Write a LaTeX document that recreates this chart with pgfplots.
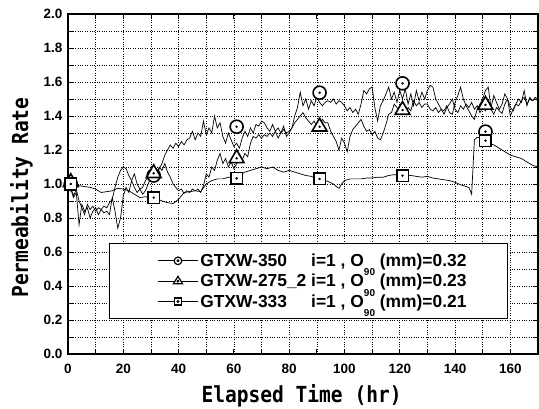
\documentclass[border=0pt]{standalone}
\usepackage{pgfplots}
\pgfplotsset{compat=1.18}
\usepackage{fontspec}
\usepackage{calc}
\usepackage{graphicx}
\setmainfont{Liberation Sans}
\newfontfamily\labelfont{DejaVu Sans Mono Bold}

% narrow monospaced axis titles of a fixed size
\newcommand{\axtitle}[1]{\resizebox{200pt}{18pt}{\labelfont #1}}

% legend samples: short line with a small marker carrying a centre dot
\pgfplotsset{
  legcircle/.style={legend image code/.code={
    \path (-9pt,0pt);
    \draw[black,line width=0.8pt] (0pt,0pt) -- (40pt,0pt);
    \draw[black,line width=1.2pt,fill=white] (20pt,0pt) circle (3.8pt);
    \fill[black] (20pt,0pt) circle (0.9pt);}},
  legtriangle/.style={legend image code/.code={
    \path (-9pt,0pt);
    \draw[black,line width=0.8pt] (0pt,0pt) -- (40pt,0pt);
    \draw[black,line width=1.2pt,fill=white] (20pt,4.8pt) -- (15.4pt,-2.7pt) -- (24.6pt,-2.7pt) -- cycle;
    \fill[black] (20pt,0pt) circle (0.9pt);}},
  legsquare/.style={legend image code/.code={
    \path (-9pt,0pt);
    \draw[black,line width=0.8pt] (0pt,0pt) -- (40pt,0pt);
    \draw[black,line width=1.2pt,fill=white] (16.5pt,-3.5pt) rectangle (23.5pt,3.5pt);
    \fill[black] (20pt,0pt) circle (0.9pt);}},
}

\newcommand{\sub}[1]{\raisebox{-9.5pt}[0pt][0pt]{\fontsize{10}{10}\selectfont #1}}
\newcommand{\sname}[1]{\makebox[\widthof{GTXW-275\_2}][l]{#1}}

\begin{document}
\begin{tikzpicture}
\path[use as bounding box] (-68pt,-55pt) rectangle (471pt,354pt);
\begin{axis}[
  at={(0pt,0pt)}, anchor=south west,
  scale only axis, width=470pt, height=340pt,
  xmin=0, xmax=170, ymin=0, ymax=2,
  xtick={0,20,40,60,80,100,120,140,160},
  ytick={0,0.2,0.4,0.6,0.8,1.0,1.2,1.4,1.6,1.8,2.0},
  minor x tick num=1, minor y tick num=1,
  grid=both,
  major grid style={black, dotted, line width=0.6pt},
  minor grid style={black, dotted, line width=0.6pt},
  tick style={black, line width=0.8pt},
  major tick length=5pt, minor tick length=5pt,
  axis line style={line width=1.5pt},
  /pgf/number format/assume math mode=true,
  tick label style={font=\fontsize{13.5}{13.5}\selectfont\bfseries},
  yticklabel style={xshift=-2pt, /pgf/number format/.cd, fixed, fixed zerofill, precision=1},
  xticklabel style={yshift=-6.5pt},
  xlabel={\axtitle{Elapsed Time (hr)}},
  ylabel={\axtitle{Permeability Rate}},
  xlabel style={at={(axis description cs:0.497,-0.143)}, anchor=base, inner sep=0pt},
  ylabel style={at={(axis description cs:-0.085,0.46)}, anchor=base, inner sep=0pt},
  legend style={at={(rel axis cs:0.0872,0.1029)}, anchor=south west,
    draw=black, line width=1pt, fill=white,
    font=\fontsize{17.4}{21}\selectfont\bfseries,
    inner xsep=39pt, inner ysep=8pt, row sep=2.2pt},
  legend cell align=left,
]

% GTXW-350
\addplot[black, line width=0.7pt, forget plot] coordinates {
(0,1.00)(1,0.97)(2,0.92)(3,0.95)(4,0.76)(5,0.88)(6,0.84)(7,0.86)(8,0.80)(9,0.84)
(10,0.86)(11,0.82)(12,0.85)(13,0.83)(14,0.84)(15,0.82)(16,0.92)(17,0.84)(18,0.74)(19,0.80)
(20,0.93)(21,0.98)(22,0.95)(23,1.02)(24,1.06)(25,1.00)(26,0.97)(27,0.98)(28,1.02)(29,1.04)
(30,1.03)(31,1.05)(32,1.04)(33,1.09)(34,1.12)(35,1.17)(36,1.20)(37,1.23)(38,1.21)(39,1.24)
(40,1.22)(41,1.25)(42,1.23)(43,1.26)(44,1.27)(45,1.31)(46,1.26)(47,1.30)(48,1.28)(49,1.37)
(50,1.29)(51,1.33)(52,1.30)(53,1.40)(54,1.33)(55,1.36)(56,1.28)(57,1.24)(58,1.30)(59,1.26)
(60,1.22)(61,1.24)(62,1.21)(63,1.27)(64,1.31)(65,1.28)(66,1.33)(67,1.30)(68,1.35)(69,1.34)
(70,1.37)(71,1.36)(72,1.33)(73,1.31)(74,1.35)(75,1.31)(76,1.33)(77,1.30)(78,1.34)(79,1.28)
(80,1.30)(81,1.33)(82,1.40)(83,1.45)(84,1.54)(85,1.46)(86,1.50)(87,1.44)(88,1.49)(89,1.46)
(90,1.51)(91,1.48)(92,1.46)(93,1.48)(94,1.49)(95,1.48)(96,1.50)(97,1.47)(98,1.49)(99,1.48)
(100,1.46)(101,1.43)(102,1.45)(103,1.42)(104,1.44)(105,1.41)(106,1.47)(107,1.55)(108,1.53)(109,1.56)
(110,1.57)(111,1.45)(112,1.37)(113,1.46)(114,1.49)(115,1.53)(116,1.57)(117,1.50)(118,1.54)(119,1.48)
(120,1.55)(121,1.50)(122,1.56)(123,1.47)(124,1.53)(125,1.46)(126,1.55)(127,1.49)(128,1.54)(129,1.50)
(130,1.55)(131,1.58)(132,1.57)(133,1.50)(134,1.47)(135,1.44)(136,1.43)(137,1.46)(138,1.42)(139,1.41)
(140,1.48)(141,1.52)(142,1.57)(143,1.50)(144,1.46)(145,1.43)(146,1.40)(147,1.38)(148,1.44)(149,1.47)
(150,1.50)(151,1.55)(152,1.57)(153,1.45)(154,1.52)(155,1.48)(156,1.44)(157,1.47)(158,1.53)(159,1.50)
(160,1.40)(161,1.44)(162,1.47)(163,1.50)(164,1.48)(165,1.55)(166,1.46)(167,1.51)(168,1.49)(169,1.50)
(170,1.49)};

% GTXW-275_2
\addplot[black, line width=0.7pt, forget plot] coordinates {
(0,1.04)(1,0.98)(2,0.93)(3,0.97)(4,0.90)(5,0.86)(6,0.82)(7,0.88)(8,0.85)(9,0.87)
(10,0.84)(11,0.86)(12,0.85)(13,0.87)(14,0.86)(15,0.89)(16,0.91)(17,0.98)(18,1.04)(19,1.08)
(20,1.10)(21,1.09)(22,1.05)(23,1.02)(24,0.98)(25,0.95)(26,0.97)(27,0.94)(28,0.96)(29,1.00)
(30,1.04)(31,1.06)(32,1.05)(33,1.10)(34,1.08)(35,1.12)(36,1.07)(37,1.04)(38,1.00)(39,0.98)
(40,0.96)(41,0.97)(42,0.945)(43,0.96)(44,0.95)(45,0.97)(46,0.96)(47,0.97)(48,0.95)(49,0.99)
(50,1.06)(51,1.04)(52,1.10)(53,1.08)(54,1.14)(55,1.18)(56,1.12)(57,1.15)(58,1.10)(59,1.13)
(60,1.09)(61,1.12)(62,1.16)(63,1.14)(64,1.18)(65,1.16)(66,1.24)(67,1.28)(68,1.27)(69,1.29)
(70,1.27)(71,1.29)(72,1.28)(73,1.30)(74,1.28)(75,1.31)(76,1.27)(77,1.30)(78,1.32)(79,1.30)
(80,1.31)(81,1.33)(82,1.36)(83,1.38)(84,1.40)(85,1.42)(86,1.39)(87,1.37)(88,1.35)(89,1.37)
(90,1.34)(91,1.35)(92,1.38)(93,1.36)(94,1.36)(95,1.31)(96,1.28)(97,1.25)(98,1.20)(99,1.27)
(100,1.24)(101,1.19)(102,1.28)(103,1.32)(104,1.34)(105,1.36)(106,1.38)(107,1.34)(108,1.31)(109,1.32)
(110,1.29)(111,1.31)(112,1.27)(113,1.26)(114,1.30)(115,1.35)(116,1.41)(117,1.42)(118,1.47)(119,1.45)
(120,1.43)(121,1.44)(122,1.41)(123,1.45)(124,1.43)(125,1.49)(126,1.46)(127,1.48)(128,1.45)(129,1.47)
(130,1.47)(131,1.44)(132,1.43)(133,1.45)(134,1.42)(135,1.44)(136,1.41)(137,1.45)(138,1.47)(139,1.50)
(140,1.44)(141,1.42)(142,1.46)(143,1.44)(144,1.47)(145,1.45)(146,1.48)(147,1.44)(148,1.46)(149,1.42)
(150,1.45)(151,1.43)(152,1.46)(153,1.44)(154,1.41)(155,1.45)(156,1.43)(157,1.415)(158,1.47)(159,1.50)
(160,1.45)(161,1.43)(162,1.47)(163,1.46)(164,1.49)(165,1.51)(166,1.47)(167,1.50)(168,1.49)(169,1.51)
(170,1.50)};

% GTXW-333
\addplot[black, line width=0.7pt, forget plot] coordinates {
(0,1.00)(2,1.00)(4,0.99)(6,0.985)(8,0.98)(10,0.97)(12,0.95)(14,0.955)(16,0.96)(18,0.975)
(20,0.97)(22,0.96)(24,0.94)(26,0.92)(28,0.925)(30,0.92)(32,0.915)(34,0.90)(36,0.89)(38,0.885)
(40,0.91)(42,0.95)(44,0.955)(46,0.96)(48,0.955)(50,1.00)(52,1.02)(54,1.03)(56,1.03)(58,1.04)
(60,1.04)(62,1.05)(64,1.07)(66,1.08)(68,1.09)(70,1.10)(72,1.09)(74,1.10)(76,1.08)(78,1.07)
(80,1.08)(82,1.07)(84,1.06)(86,1.05)(88,1.045)(90,1.03)(92,1.025)(94,1.015)(96,1.00)(97,0.985)
(98,0.975)(99,1.00)(100,1.02)(102,1.03)(104,1.03)(106,1.03)(108,1.035)(110,1.035)(112,1.04)(114,1.04)
(116,1.05)(118,1.055)(120,1.05)(122,1.055)(124,1.05)(126,1.045)(128,1.04)(130,1.045)(132,1.035)(134,1.03)
(136,1.025)(138,1.02)(140,1.01)(142,0.995)(144,0.985)(145,0.98)(146,0.94)(147,1.26)(148,1.275)(150,1.27)
(152,1.24)(154,1.23)(156,1.21)(158,1.19)(160,1.17)(162,1.16)(164,1.15)(166,1.13)(168,1.11)(170,1.10)};

% sampled markers
\addplot[legcircle, only marks, mark=*, mark size=6.5pt,
  mark options={draw=black, fill=white, line width=1.6pt}]
  coordinates {(1,1.00)(31,1.05)(61,1.337)(91,1.537)(121,1.592)(151,1.308)};
\addlegendentry{\sname{GTXW-350} i=1 , O\sub{90} (mm)=0.32}
\addplot[only marks, mark=*, mark size=1pt, black, forget plot]
  coordinates {(1,1.00)(31,1.05)(61,1.337)(91,1.537)(121,1.592)(151,1.308)};

\addplot[legtriangle, only marks, mark=triangle*, mark size=8.5pt,
  mark options={draw=black, fill=white, line width=1.6pt}]
  coordinates {(1,1.01)(31,1.063)(61,1.151)(91,1.337)(121,1.435)(151,1.465)};
\addlegendentry{\sname{GTXW-275\_2} i=1 , O\sub{90} (mm)=0.23}
\addplot[only marks, mark=*, mark size=1pt, black, forget plot]
  coordinates {(1,1.01)(31,1.063)(61,1.151)(91,1.337)(121,1.435)(151,1.465)};

\addplot[legsquare, only marks, mark=square*, mark size=5.8pt,
  mark options={draw=black, fill=white, line width=1.6pt}]
  coordinates {(1,1.00)(31,0.92)(61,1.033)(91,1.03)(121,1.049)(151,1.255)};
\addlegendentry{\sname{GTXW-333} i=1 , O\sub{90} (mm)=0.21}
\addplot[only marks, mark=*, mark size=1pt, black, forget plot]
  coordinates {(1,1.00)(31,0.92)(61,1.033)(91,1.03)(121,1.049)(151,1.255)};

\end{axis}
\end{tikzpicture}
\end{document}
